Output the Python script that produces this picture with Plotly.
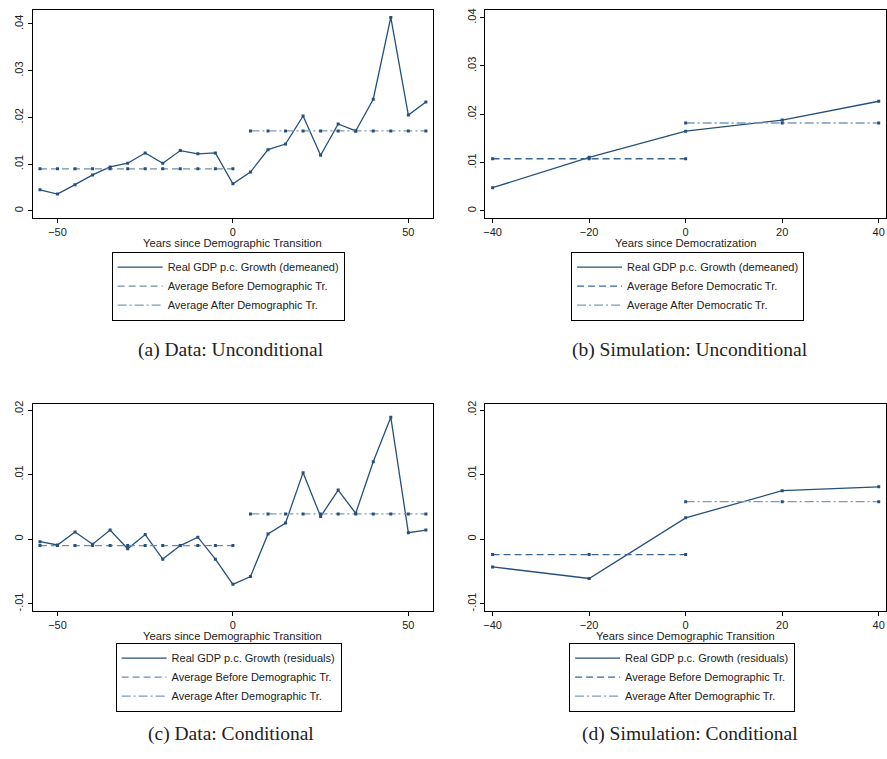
import plotly.graph_objects as go

# ---------------- data ----------------
years_data = [-55, -50, -45, -40, -35, -30, -25, -20, -15, -10, -5, 0,
              5, 10, 15, 20, 25, 30, 35, 40, 45, 50, 55]
growth_a = [0.0045, 0.0036, 0.0056, 0.0077, 0.0094, 0.0102, 0.0124, 0.0102,
            0.0129, 0.0122, 0.0124, 0.0058, 0.0083, 0.0131, 0.0143, 0.0203,
            0.0119, 0.0186, 0.0171, 0.0239, 0.0414, 0.0205, 0.0233]
avg_before_a = 0.0090
avg_after_a = 0.0171

years_sim = [-40, -20, 0, 20, 40]
growth_b = [0.0048, 0.0111, 0.0165, 0.0188, 0.0227]
avg_before_b = 0.0108
avg_after_b = 0.0182

growth_c = [-0.0004, -0.0009, 0.0011, -0.0008, 0.0014, -0.0015, 0.0007, -0.0031,
            -0.0010, 0.0003, -0.0031, -0.0070, -0.0058, 0.0008, 0.0025, 0.0103,
            0.0035, 0.0076, 0.0040, 0.0120, 0.0189, 0.0010, 0.0014]
avg_before_c = -0.0010
avg_after_c = 0.0039

growth_d = [-0.0043, -0.0061, 0.0033, 0.0075, 0.0081]
avg_before_d = -0.0024
avg_after_d = 0.0058

yticks_top = [0, 0.01, 0.02, 0.03, 0.04]
yticklabels_top = ["0", ".01", ".02", ".03", ".04"]
yticks_bot = [-0.01, 0, 0.01, 0.02]
yticklabels_bot = ["-.01", "0", ".01", ".02"]
xticks_data = [-50, 0, 50]
xticks_sim = [-40, -20, 0, 20, 40]

captions = ["(a) Data: Unconditional", "(b) Simulation: Unconditional",
            "(c) Data: Conditional", "(d) Simulation: Conditional"]
xtitles = ["Years since Demographic Transition", "Years since Democratization",
           "Years since Demographic Transition", "Years since Demographic Transition"]
series_names = [
    ["Real GDP p.c. Growth (demeaned)", "Average Before Demographic Tr.", "Average After Demographic Tr."],
    ["Real GDP p.c. Growth (demeaned)", "Average Before Democratic Tr.", "Average After Democratic Tr."],
    ["Real GDP p.c. Growth (residuals)", "Average Before Demographic Tr.", "Average After Demographic Tr."],
    ["Real GDP p.c. Growth (residuals)", "Average Before Demographic Tr.", "Average After Demographic Tr."],
]

# ---------------- styling ----------------
W, H = 887, 759
MAIN = "#25507c"
BEFORE_LIGHT = "#6f8dac"
BEFORE_DARK = "#3a6794"
AFTER = "#7d9bb8"
SANS = "Liberation Sans, Arial, sans-serif"
SERIF = "Liberation Serif, DejaVu Serif, serif"
TXT = "#222222"

def clamp(v):
    return max(0.0, min(1.0, v))

def fx(p):
    return clamp(p / W)

def fy(p):
    return clamp(1 - p / H)

panels = [
    dict(x=years_data, y=growth_a, b=avg_before_a, a=avg_after_a, xr=[-57.1, 56.9], yr=[-0.0015, 0.0430],
         yt=yticks_top, ytl=yticklabels_top, xt=xticks_data, dx=(30.7, 432), dy=(7, 216), bcol=BEFORE_LIGHT,
         leg=(110, 250), cap=(230, 349), ttl=241),
    dict(x=years_sim, y=growth_b, b=avg_before_b, a=avg_after_b, xr=[-41.5, 41.4], yr=[-0.00144, 0.0416],
         yt=yticks_top, ytl=yticklabels_top, xt=xticks_sim, dx=(485, 886.5), dy=(7, 216), bcol=BEFORE_DARK,
         leg=(571, 250), cap=(690, 349), ttl=241),
    dict(x=years_data, y=growth_c, b=avg_before_c, a=avg_after_c, xr=[-57.1, 56.9], yr=[-0.0111, 0.0210],
         yt=yticks_bot, ytl=yticklabels_bot, xt=xticks_data, dx=(30.7, 432), dy=(402.7, 611), bcol=BEFORE_LIGHT,
         leg=(114, 643), cap=(230, 735), ttl=636),
    dict(x=years_sim, y=growth_d, b=avg_before_d, a=avg_after_d, xr=[-41.5, 41.4], yr=[-0.0111, 0.0210],
         yt=yticks_bot, ytl=yticklabels_bot, xt=xticks_sim, dx=(485, 886.5), dy=(402.7, 611), bcol=BEFORE_DARK,
         leg=(569, 643), cap=(690, 735), ttl=636),
]

fig = go.Figure()
layout = dict(width=W, height=H, margin=dict(l=0, r=0, t=0, b=0),
              paper_bgcolor="white", plot_bgcolor="white", annotations=[])

for i, p in enumerate(panels):
    k = i + 1
    xa = "x" if k == 1 else f"x{k}"
    ya = "y" if k == 1 else f"y{k}"
    lg = "legend" if k == 1 else f"legend{k}"
    xs = p["x"]
    before_x = [v for v in xs if v <= 0]
    after_x = [v for v in xs if v >= (5 if len(xs) > 5 else 0)]
    names = series_names[i]
    series = [
        (xs, p["y"], names[0], dict(color=MAIN, width=1.3)),
        (before_x, [p["b"]] * len(before_x), names[1], dict(color=p["bcol"], width=1.3, dash="7px,4px")),
        (after_x, [p["a"]] * len(after_x), names[2], dict(color=AFTER, width=1.3, dash="9px,3px,2px,3px")),
    ]
    for sx, sy, nm, ln in series:
        fig.add_trace(go.Scatter(x=sx, y=sy, mode="lines", name=nm, line=ln,
                                 xaxis=xa, yaxis=ya, legend=lg))
        fig.add_trace(go.Scatter(x=sx, y=sy, mode="markers", showlegend=False, hoverinfo="skip",
                                 marker=dict(symbol="square", size=3, color=MAIN),
                                 xaxis=xa, yaxis=ya))

    axis_common = dict(showline=True, linecolor="black", linewidth=1, mirror=True,
                       showgrid=False, zeroline=False, ticks="outside", ticklen=4,
                       tickcolor="black", tickfont=dict(family=SANS, size=11, color=TXT))
    layout["xaxis" if k == 1 else f"xaxis{k}"] = dict(
        axis_common, domain=[fx(p["dx"][0]), fx(p["dx"][1])], range=p["xr"], tickvals=p["xt"],
        anchor=ya)
    layout["yaxis" if k == 1 else f"yaxis{k}"] = dict(
        axis_common, domain=[fy(p["dy"][1]), fy(p["dy"][0])], range=p["yr"], tickvals=p["yt"],
        ticktext=p["ytl"], tickangle=-90, anchor=xa)
    layout[lg] = dict(x=fx(p["leg"][0]), y=fy(p["leg"][1]), xanchor="left", yanchor="top",
                      xref="paper", yref="paper", bordercolor="black", borderwidth=1,
                      bgcolor="white", font=dict(family=SANS, size=11, color=TXT),
                      tracegroupgap=0, itemwidth=45)
    layout["annotations"].append(dict(text=xtitles[i], x=fx((p["dx"][0] + p["dx"][1]) / 2), y=fy(p["ttl"]),
                                      xref="paper", yref="paper", showarrow=False,
                                      xanchor="center", yanchor="middle",
                                      font=dict(family=SANS, size=11.2, color=TXT)))
    layout["annotations"].append(dict(text=captions[i], x=fx(p["cap"][0]), y=fy(p["cap"][1]),
                                      xref="paper", yref="paper", showarrow=False,
                                      xanchor="center", yanchor="middle",
                                      font=dict(family=SERIF, size=19.5, color=TXT)))

fig.update_layout(**layout)
fig.write_html("out.html", config={"displayModeBar": False},
               post_script="document.body.style.margin='0px';document.body.style.overflow='hidden';")
